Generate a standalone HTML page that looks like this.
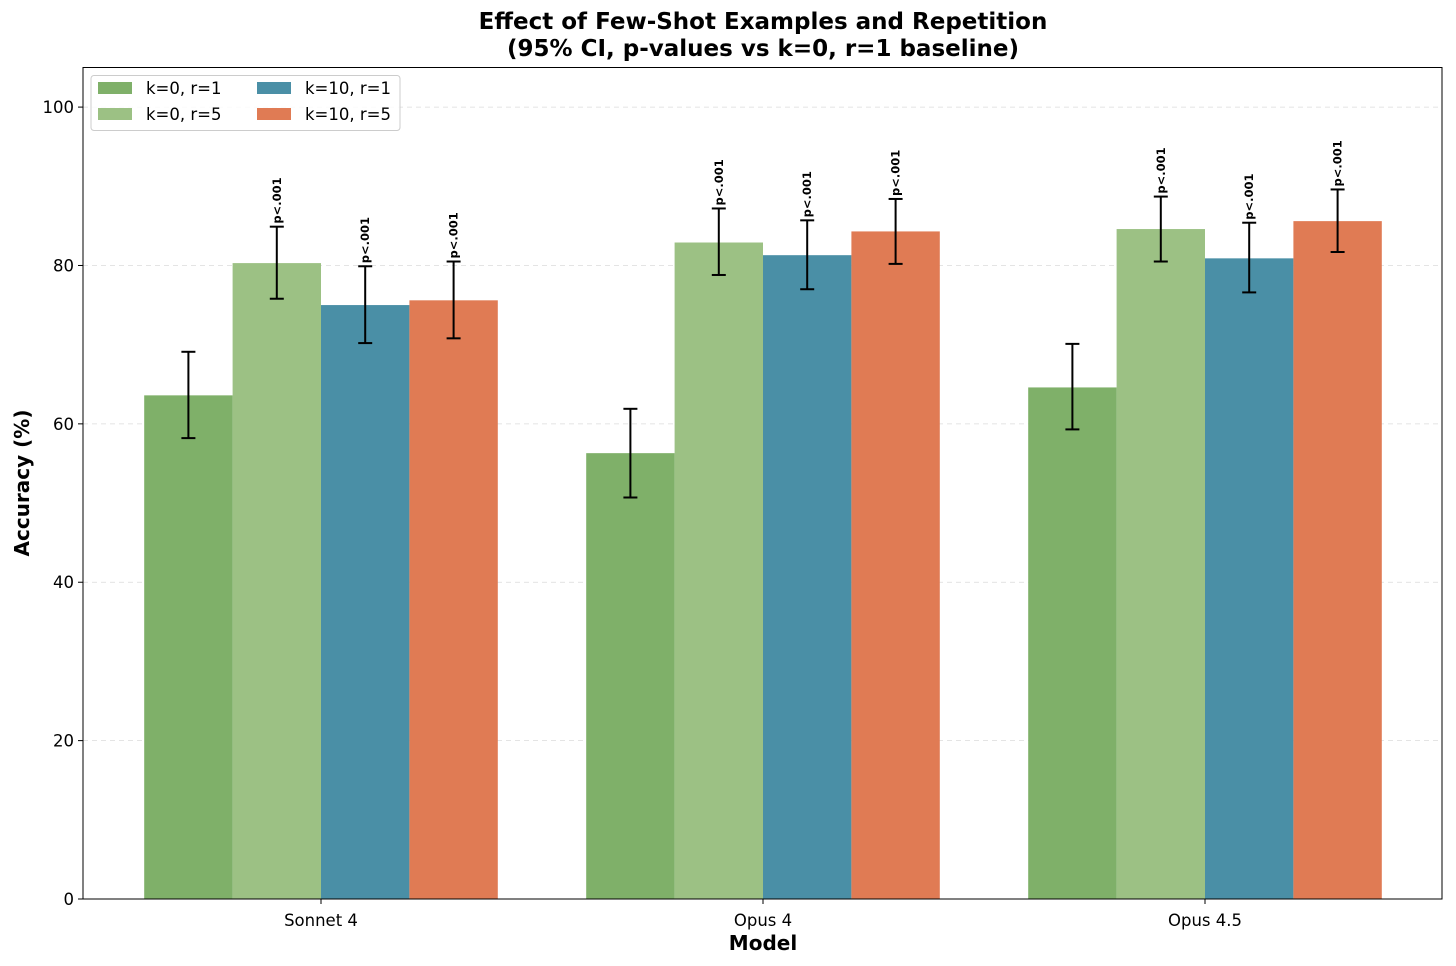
<!DOCTYPE html>
<html><head><meta charset="utf-8"><style>
body{margin:0;background:#fff;}
svg{display:block;font-family:"DejaVu Sans","Liberation Sans",sans-serif;}
</style></head><body>
<svg id="chart" width="1456" height="966" viewBox="0 0 1456 966"></svg>
<script>
const categories = ["Sonnet 4","Opus 4","Opus 4.5"];
const seriesNames = ["k=0, r=1","k=0, r=5","k=10, r=1","k=10, r=5"];
const seriesColors = ["#7fb069","#9cc184","#4a8fa6","#e07b54"];
const valsK0R1 = [63.6,56.3,64.6];
const valsK0R5 = [80.3,82.9,84.6];
const valsK10R1 = [75.0,81.3,80.9];
const valsK10R5 = [75.6,84.3,85.6];
const lowK0R1 = [58.2,50.7,59.3];
const highK0R1 = [69.1,61.9,70.1];
const lowK0R5 = [75.8,78.8,80.5];
const highK0R5 = [84.9,87.2,88.7];
const lowK10R1 = [70.2,77.0,76.6];
const highK10R1 = [79.9,85.7,85.4];
const lowK10R5 = [70.8,80.2,81.7];
const highK10R5 = [80.5,88.4,89.6];
const pLabels = [null,"p<.001","p<.001","p<.001"];
const yTicks = [0,20,40,60,80,100];

const NS="http://www.w3.org/2000/svg";
const svg=document.getElementById('chart');
const L=83,R=1442,B=899,T=67.5,yMax=105;
const y=v=>B-(v/yMax)*(B-T);
const x=i=>321+i*442;
const bw=88.4;
function mk(tag,attrs,parent){const e=document.createElementNS(NS,tag);for(const k in attrs)e.setAttribute(k,attrs[k]);(parent||svg).appendChild(e);return e;}

yTicks.forEach(t=>{
  if(t>0){const g=mk('line',{x1:L,x2:R,y1:y(t),y2:y(t),stroke:'#ccc','stroke-dasharray':'5,4','stroke-width':0.8,opacity:0.7});
  
  }
  const tk=mk('line',{x1:L-5,x2:L,y1:y(t),y2:y(t),stroke:'#000','stroke-width':1});
  
  
  const tl=mk('text',{x:L-9,y:y(t)+6,'text-anchor':'end','font-size':16.5});
  tl.textContent=t;
  
  
});

const vals=[valsK0R1,valsK0R5,valsK10R1,valsK10R5];
const lows=[lowK0R1,lowK0R5,lowK10R1,lowK10R5];
const highs=[highK0R1,highK0R5,highK10R1,highK10R5];
categories.forEach((c,i)=>{
  for(let s=0;s<4;s++){
    const cx=x(i)+(s-1.5)*bw;
    const r=mk('rect',{x:cx-bw/2,y:y(vals[s][i]),width:bw,height:B-y(vals[s][i]),fill:seriesColors[s]});
    
    
    const g=mk('g',{stroke:'#000','stroke-width':2});
    
    
    mk('line',{x1:cx,x2:cx,y1:y(lows[s][i]),y2:y(highs[s][i])},g);
    mk('line',{x1:cx-7,x2:cx+7,y1:y(lows[s][i]),y2:y(lows[s][i])},g);
    mk('line',{x1:cx-7,x2:cx+7,y1:y(highs[s][i]),y2:y(highs[s][i])},g);
    if(pLabels[s]){
      const ty=y(highs[s][i])-3;
      const pt=mk('text',{x:0,y:0,transform:`translate(${cx+4},${ty}) rotate(-90)`,'font-size':11.5,'font-weight':'bold'});
      pt.textContent=pLabels[s];
      
      
    }
  }
  const tk=mk('line',{x1:x(i),x2:x(i),y1:B,y2:B+5,stroke:'#000'});
  
  
  const tl=mk('text',{x:x(i),y:B+27,'text-anchor':'middle','font-size':16.5});
  tl.textContent=c;
  
  
});

const frame=mk('rect',{x:L,y:T,width:R-L,height:B-T,fill:'none',stroke:'#000','stroke-width':1});



const lg=mk('g',{});


mk('rect',{x:91,y:75.5,width:309,height:55,rx:3,fill:'#fff',stroke:'#ccc','fill-opacity':0.8},lg);
const lpos=[[98,88],[98,114],[257,88],[257,114]];
seriesNames.forEach((n,s)=>{
  const e=mk('g',{},lg);
  
  
  mk('rect',{x:lpos[s][0],y:lpos[s][1]-6,width:34,height:12,fill:seriesColors[s]},e);
  const t=mk('text',{x:lpos[s][0]+48,y:lpos[s][1]+6,'font-size':16.5},e);
  t.textContent=n;
});

function txt(str,attrs,name){const t=mk('text',attrs);t.textContent=str;}
txt('Effect of Few-Shot Examples and Repetition',{x:763,y:29,'text-anchor':'middle','font-size':23,'font-weight':'bold'},'chart-title');
txt('(95% CI, p-values vs k=0, r=1 baseline)',{x:763,y:56,'text-anchor':'middle','font-size':23,'font-weight':'bold'},'chart-subtitle');
txt('Model',{x:763,y:950,'text-anchor':'middle','font-size':20,'font-weight':'bold'},'x-axis-title');
txt('Accuracy (%)',{x:0,y:0,transform:'translate(29,483) rotate(-90)','text-anchor':'middle','font-size':20,'font-weight':'bold'},'y-axis-title');
</script>
</body></html>
